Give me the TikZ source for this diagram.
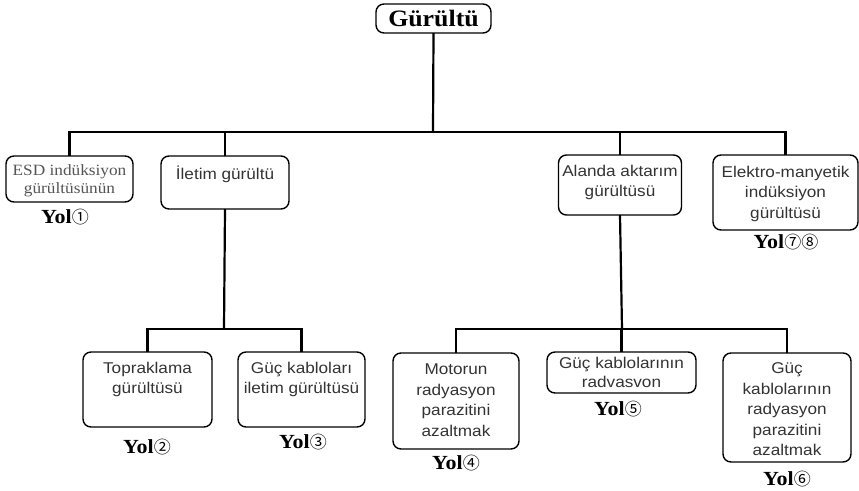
\documentclass[tikz,border=0pt]{standalone}
\usepackage{fontspec}
\setmainfont{Liberation Serif}[FakeStretch=1.1]
\setsansfont{Liberation Sans}[FakeStretch=1.1]
\newfontfamily\circfont{Noto Sans CJK SC}
\definecolor{boxtext}{HTML}{333333}
\definecolor{esdtext}{HTML}{555555}
\newcommand{\boxcontent}[4][10pt]{\begin{minipage}[c][#3pt][t]{#2pt}\centering\vspace*{#1}#4\end{minipage}}
\newcommand{\cnum}[1]{{\circfont\mdseries\fontsize{17}{17}\selectfont #1}}
\begin{document}
\begin{tikzpicture}[x=1pt,y=-1pt,
  rbox/.style={draw=black, line width=1.4pt, rounded corners=8pt, inner sep=0pt, outer sep=0pt,
    font=\sffamily\fontsize{15.6}{20.5}\selectfont, text=boxtext},
  conn/.style={draw=black, line width=2.2pt, line join=miter},
  yol/.style={inner sep=0pt, font=\bfseries\fontsize{20}{20}\selectfont, text=black}]
\useasboundingbox (0,0) rectangle (859,490);
% root
\node[rbox, minimum width=115pt, minimum height=29pt, font=\bfseries\fontsize{23.5}{23.5}\selectfont, text=black]
  (root) at (433.5,18.5) {Gürültü};
% level 1
\node[rbox, font=\rmfamily\fontsize{15.7}{18}\selectfont, text=esdtext] (esd) at (69.5,179)
  {\boxcontent[9pt]{127}{46}{ESD indüksiyon\\gürültüsünün}};
\node[rbox] (ilet) at (225,182.5) {\boxcontent{128}{53}{İletim gürültü}};
\node[rbox] (alan) at (620,185) {\boxcontent{123}{60}{Alanda aktarım\\gürültüsü}};
\node[rbox] (elek) at (785.5,192.5) {\boxcontent[11pt]{145}{75}{Elektro-manyetik\\indüksiyon\\gürültüsü}};
% level 2
\node[rbox] (topr) at (147.5,389.5) {\boxcontent{129}{75}{Topraklama\\gürültüsü}};
\node[rbox] (gucil) at (301.5,389.5) {\boxcontent{127}{75}{Güç kabloları\\iletim gürültüsü}};
\node[rbox] (motor) at (456,401) {\boxcontent[11pt]{126}{96}{Motorun\\radyasyon\\parazitini\\azaltmak}};
\node[rbox] (gucrad) at (621.5,372.5) {\boxcontent[5pt]{149}{41}{Güç kablolarının\\[-1.5pt]radvasvon}};
\node[rbox] (guc6) at (787,407.5) {\boxcontent{128}{109}{Güç\\kablolarının\\radyasyon\\parazitini\\azaltmak}};
% junctions
\coordinate (j0) at (433,132);
\coordinate (j1) at (224,329);
\coordinate (j2) at (622,329);
% connectors
\draw[conn] (root.south) -- (j0);
\draw[conn] (esd.north) |- (j0);
\draw[conn] (ilet.north) |- (j0);
\draw[conn] (alan.north) |- (j0);
\draw[conn] (elek.north) |- (j0);
\draw[conn] (ilet.south) -- (j1);
\draw[conn] (topr.north) |- (j1);
\draw[conn] (gucil.north) |- (j1);
\draw[conn] (alan.south) -- (j2);
\draw[conn] (motor.north) |- (j2);
\draw[conn] (gucrad.north) |- (j2);
\draw[conn] (guc6.north) |- (j2);
% Yol labels
\node[yol] (y1) at (65,217) {Yol\cnum{①}};
\node[yol] (y2) at (147,447) {Yol\cnum{②}};
\node[yol] (y3) at (303,442) {Yol\cnum{③}};
\node[yol] (y4) at (456,463) {Yol\cnum{④}};
\node[yol] (y5) at (618,409) {Yol\cnum{⑤}};
\node[yol] (y6) at (787,479) {Yol\cnum{⑥}};
\node[yol] (y78) at (786,242) {Yol\cnum{⑦⑧}};
\end{tikzpicture}
\end{document}
